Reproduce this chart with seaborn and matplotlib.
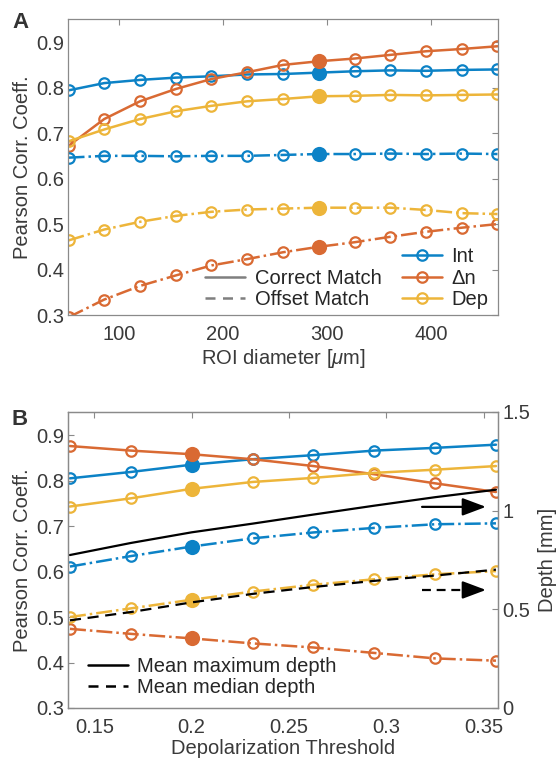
import numpy as np
import pandas as pd
import matplotlib
matplotlib.use("Agg")
import matplotlib.pyplot as plt
import seaborn as sns
from matplotlib.lines import Line2D

# ---------------- data ----------------
roi_diam = [51.5, 85.8, 120.2, 154.5, 188.8, 223.2, 257.5, 291.8, 326.2, 360.5, 394.8, 429.2, 463.5]
a_int_correct = [0.794, 0.810, 0.817, 0.822, 0.825, 0.829, 0.830, 0.833, 0.836, 0.838, 0.837, 0.839, 0.840]
a_dn_correct = [0.672, 0.731, 0.770, 0.797, 0.819, 0.834, 0.850, 0.858, 0.864, 0.872, 0.880, 0.885, 0.891]
a_dep_correct = [0.682, 0.708, 0.731, 0.748, 0.760, 0.770, 0.775, 0.781, 0.782, 0.784, 0.783, 0.784, 0.785]
a_int_offset = [0.646, 0.650, 0.650, 0.649, 0.650, 0.650, 0.652, 0.654, 0.654, 0.655, 0.654, 0.655, 0.654]
a_dn_offset = [0.295, 0.334, 0.364, 0.387, 0.409, 0.423, 0.438, 0.450, 0.460, 0.472, 0.483, 0.492, 0.500]
a_dep_offset = [0.464, 0.488, 0.505, 0.518, 0.527, 0.532, 0.534, 0.536, 0.536, 0.536, 0.531, 0.524, 0.522]
a_highlight = 7

dep_thresh = [0.1375, 0.16875, 0.2, 0.23125, 0.2625, 0.29375, 0.325, 0.35625]
b_int_correct = [0.805, 0.819, 0.835, 0.847, 0.856, 0.866, 0.872, 0.879]
b_dn_correct = [0.876, 0.866, 0.858, 0.847, 0.832, 0.814, 0.794, 0.775]
b_dep_correct = [0.743, 0.761, 0.782, 0.797, 0.806, 0.817, 0.824, 0.832]
b_int_offset = [0.611, 0.634, 0.655, 0.673, 0.686, 0.696, 0.704, 0.706]
b_dn_offset = [0.474, 0.463, 0.453, 0.442, 0.433, 0.421, 0.409, 0.404]
b_dep_offset = [0.500, 0.519, 0.538, 0.556, 0.571, 0.583, 0.594, 0.601]
b_highlight = 2
max_depth = [0.775, 0.836, 0.890, 0.934, 0.980, 1.025, 1.068, 1.106]
median_depth = [0.444, 0.486, 0.535, 0.578, 0.613, 0.644, 0.671, 0.701]

series_names = ["Int", "\u0394n", "Dep"]
colors = ["#0C82C6", "#D96A33", "#EDB53A"]

# ---------------- style ----------------
sns.set_theme(style="white")
plt.rcParams["font.family"] = ["Liberation Sans", "DejaVu Sans"]
plt.rcParams["mathtext.fontset"] = "custom"
plt.rcParams["mathtext.it"] = "Liberation Sans:italic"
plt.rcParams["mathtext.rm"] = "Liberation Sans"
FS = 14.5
TXT = "#3a3a3a"
SPINE = "#8a8a8a"

fig = plt.figure(figsize=(5.56, 7.62), dpi=100)
axA = fig.add_axes([0.1223, 0.5866, 0.7734, 0.3885])
axB = fig.add_axes([0.1223, 0.0709, 0.7734, 0.3885])


def style_axes(ax):
    for s in ax.spines.values():
        s.set_color(SPINE)
        s.set_linewidth(0.9)
    ax.tick_params(direction="in", length=4, width=0.8, color=SPINE, pad=3,
                   labelsize=FS, labelcolor=TXT, top=True, right=True)
    ax.tick_params(axis="x", pad=7)


def draw_series(ax, x, ys, ls, hl):
    for y, c in zip(ys, colors):
        df = pd.DataFrame({"x": x, "y": y})
        sns.lineplot(data=df, x="x", y="y", ax=ax, color=c, linestyle=ls, lw=1.8,
                     marker="o", markersize=7.5, markerfacecolor="none",
                     markeredgecolor=c, markeredgewidth=1.6, clip_on=True)
        sns.scatterplot(x=[x[hl]], y=[y[hl]], ax=ax, color=c, s=120,
                        edgecolor=c, linewidth=0, zorder=5)


leg_kw = dict(frameon=False, fontsize=FS, handlelength=2.0, handletextpad=0.45,
              labelspacing=0.12, borderaxespad=0, borderpad=0)

# ---------------- panel A ----------------
draw_series(axA, roi_diam, [a_int_correct, a_dn_correct, a_dep_correct], "-", a_highlight)
draw_series(axA, roi_diam, [a_int_offset, a_dn_offset, a_dep_offset], "-.", a_highlight)
axA.set_xlim(51, 464)
axA.set_ylim(0.3, 0.951)
axA.set_xticks([100, 200, 300, 400])
axA.set_yticks([0.3, 0.4, 0.5, 0.6, 0.7, 0.8, 0.9])
axA.set_yticklabels(["0.3", "0.4", "0.5", "0.6", "0.7", "0.8", "0.9"])
axA.set_xlabel(r"ROI diameter [$\mathit{\mu}$m]", fontsize=FS, color=TXT, labelpad=2)
axA.set_ylabel("Pearson Corr. Coeff.", fontsize=FS, color=TXT, labelpad=3)
style_axes(axA)

hs = [Line2D([], [], color=c, lw=1.8, marker="o", markersize=7.5,
             markerfacecolor="none", markeredgewidth=1.6) for c in colors]
leg1 = axA.legend(hs, series_names, loc="lower left", bbox_to_anchor=(0.777, 0.02), **leg_kw)
axA.add_artist(leg1)
hs2 = [Line2D([], [], color="#7f7f7f", lw=1.8, ls="-"),
       Line2D([], [], color="#7f7f7f", lw=1.8, ls=(0, (4, 3)))]
axA.legend(hs2, ["Correct Match", "Offset Match"], loc="lower left",
           bbox_to_anchor=(0.319, 0.02), **leg_kw)

# ---------------- panel B ----------------
draw_series(axB, dep_thresh, [b_int_correct, b_dn_correct, b_dep_correct], "-", b_highlight)
draw_series(axB, dep_thresh, [b_int_offset, b_dn_offset, b_dep_offset], "-.", b_highlight)
axB.set_xlim(0.1365, 0.3573)
axB.set_ylim(0.3, 0.951)
axB.set_xticks([0.15, 0.2, 0.25, 0.3, 0.35])
axB.set_xticklabels(["0.15", "0.2", "0.25", "0.3", "0.35"])
axB.set_yticks([0.3, 0.4, 0.5, 0.6, 0.7, 0.8, 0.9])
axB.set_yticklabels(["0.3", "0.4", "0.5", "0.6", "0.7", "0.8", "0.9"])
axB.set_xlabel("Depolarization Threshold", fontsize=FS, color=TXT, labelpad=2)
axB.set_ylabel("Pearson Corr. Coeff.", fontsize=FS, color=TXT, labelpad=3)
style_axes(axB)
axB.tick_params(right=False)

axB2 = axB.twinx()
sns.lineplot(x=dep_thresh, y=max_depth, ax=axB2, color="black", lw=1.6, ls="-")
sns.lineplot(x=dep_thresh, y=median_depth, ax=axB2, color="black", lw=1.6, ls=(0, (5, 3)))
axB2.set_ylim(0, 1.5)
axB2.set_yticks([0, 0.5, 1, 1.5])
axB2.set_yticklabels(["0", "0.5", "1", "1.5"])
axB2.set_ylabel("Depth [mm]", fontsize=FS, color=TXT, labelpad=6)
for s in axB2.spines.values():
    s.set_color(SPINE)
    s.set_linewidth(0.9)
axB2.tick_params(direction="in", length=4, width=0.8, color=SPINE, pad=3,
                 labelsize=FS, labelcolor=TXT)
axB2.set_xlim(0.1365, 0.3573)

# arrows pointing to right axis
arrow_x0, arrow_x1 = 0.3183, 0.3511
arrow_solid_y, arrow_dash_y = 1.019, 0.598
head = "-|>,head_length=1.2,head_width=0.45"
axB2.annotate("", xy=(arrow_x1, arrow_solid_y), xytext=(arrow_x0, arrow_solid_y),
              arrowprops=dict(arrowstyle=head, color="black", lw=1.6, shrinkA=0, shrinkB=0))
axB2.plot([arrow_x0, arrow_x1 - 0.007], [arrow_dash_y, arrow_dash_y], color="black",
          lw=1.6, ls=(0, (4, 2.6)))
axB2.annotate("", xy=(arrow_x1, arrow_dash_y), xytext=(arrow_x1 - 0.006, arrow_dash_y),
              arrowprops=dict(arrowstyle=head, color="black", lw=1.6, shrinkA=0, shrinkB=0))

hs3 = [Line2D([], [], color="black", lw=1.8, ls="-"),
       Line2D([], [], color="black", lw=1.8, ls=(0, (4, 3)))]
axB2.legend(hs3, ["Mean maximum depth", "Mean median depth"], loc="lower left",
            bbox_to_anchor=(0.0465, 0.037), **leg_kw)

# panel labels
fig.text(0.022, 0.970, "A", fontsize=16, fontweight="bold", color="#333333", va="center")
fig.text(0.020, 0.449, "B", fontsize=16, fontweight="bold", color="#333333", va="center")

fig.savefig("out.png", dpi=100)
